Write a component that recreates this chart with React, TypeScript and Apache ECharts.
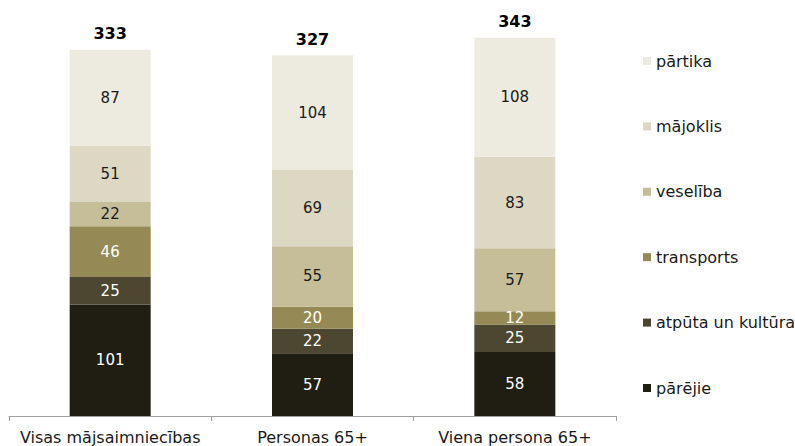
import React, { useEffect, useRef } from "react";
import * as echarts from "echarts";

const categories = ["Visas mājsaimniecības", "Personas 65+", "Viena persona 65+"];
const seriesNames = ["pārējie", "atpūta un kultūra", "transports", "veselība", "mājoklis", "pārtika"];
const parejie = [101, 57, 58];
const atputa = [25, 22, 25];
const transports = [46, 20, 12];
const veseliba = [22, 55, 57];
const majoklis = [51, 69, 83];
const partika = [87, 104, 108];
const totals = [333, 327, 343];

const colors = ["#201E13", "#4D4631", "#958A55", "#C5BE99", "#DDD8C3", "#EDEBE0"];
const labelColors = ["#ffffff", "#ffffff", "#ffffff", "#1a1a1a", "#1a1a1a", "#1a1a1a"];

export default function App() {
  const ref = useRef<HTMLDivElement>(null);
  useEffect(() => {
    if (!ref.current) return;
    const chart = echarts.init(ref.current, null, { renderer: "svg" });
    const values = [parejie, atputa, transports, veseliba, majoklis, partika];
    const font = "DejaVu Sans, Verdana, sans-serif";
    const series: any[] = seriesNames.map((name, i) => ({
      name,
      type: "bar",
      stack: "s",
      barWidth: 81,
      data: values[i],
      itemStyle: { color: colors[i] },
      label: {
        show: true,
        position: "inside",
        color: labelColors[i],
        fontSize: 15,
        fontFamily: font,
      },
    }));
    series.push({
      name: "total",
      type: "bar",
      stack: "s",
      barWidth: 81,
      data: [0, 0, 0],
      itemStyle: { color: "transparent" },
      label: {
        show: true,
        position: "top",
        distance: 8,
        fontSize: 16,
        fontWeight: "bold",
        color: "#000",
        fontFamily: font,
        formatter: (p: any) => String(totals[p.dataIndex]),
      },
    });
    chart.setOption({
      animation: false,
      grid: { left: 9, right: 179, top: 30, bottom: 30 },
      legend: {
        orient: "vertical",
        left: 638,
        top: 48,
        data: [...seriesNames].reverse(),
        itemWidth: 8,
        itemHeight: 8,
        itemGap: 49.4,
        icon: "rect",
        selectedMode: false,
        textStyle: { fontSize: 16, color: "#1a1a1a", fontFamily: font, lineHeight: 16 },
      },
      xAxis: {
        type: "category",
        data: categories,
        axisLine: { lineStyle: { color: "#a0a0a0" } },
        axisTick: { show: true, length: 5, lineStyle: { color: "#a0a0a0" } },
        axisLabel: {
          interval: 0,
          hideOverlap: false,
          fontSize: 16,
          color: "#1a1a1a",
          fontFamily: font,
          margin: 13,
        },
      },
      yAxis: {
        type: "value",
        min: 0,
        max: 350,
        show: false,
        splitLine: { show: false },
      },
      series,
    });
    return () => chart.dispose();
  }, []);
  return (
    <div
      ref={ref}
      style={{ position: "absolute", left: 0, top: 0, width: 795, height: 446 }}
    />
  );
}
